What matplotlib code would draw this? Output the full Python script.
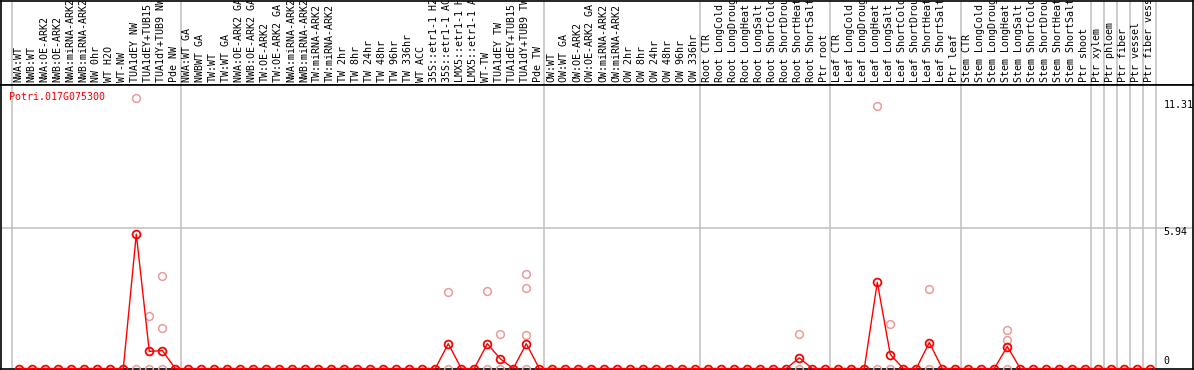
import matplotlib
matplotlib.use("Agg")
import matplotlib.pyplot as plt

W, H = 1194, 370

# sample labels, grouped as in the chart
grp_nw = ["NWA:WT", "NWB:WT", "NWA:OE-ARK2", "NWB:OE-ARK2", "NWA:miRNA-ARK2",
          "NWB:miRNA-ARK2", "NW 0hr", "WT H2O", "WT-NW", "TUA1dEY NW",
          "TUA1dEY+TUB15 NW", "TUA1dY+TUB9 NW", "Pde NW"]
grp_tw = ["NWA:WT GA", "NWBWT GA", "TW:WT", "TW:WT GA", "NWA:OE-ARK2 GA",
          "NWB:OE-ARK2 GA", "TW:OE-ARK2", "TW:OE-ARK2 GA", "NWA:miRNA-ARK2",
          "NWB:miRNA-ARK2", "TW:miRNA-ARK2", "TW:miRNA-ARK2", "TW 2hr", "TW 8hr",
          "TW 24hr", "TW 48hr", "TW 96hr", "TW 336hr", "WT ACC",
          "35S::etr1-1 H2O", "35S::etr1-1 ACC", "LMX5::etr1-1 H2O",
          "LMX5::etr1-1 ACC", "WT-TW", "TUA1dEY TW", "TUA1dEY+TUB15 TW",
          "TUA1dY+TUB9 TW", "Pde TW"]
grp_ow = ["OW:WT", "OW:WT GA", "OW:OE-ARK2", "OW:OE-ARK2 GA", "OW:miRNA-ARK2",
          "OW:miRNA-ARK2", "OW 2hr", "OW 8hr", "OW 24hr", "OW 48hr", "OW 96hr",
          "OW 336hr"]
grp_root = ["Root CTR", "Root LongCold", "Root LongDrought", "Root LongHeat",
            "Root LongSalt", "Root ShortCold", "Root ShortDrought",
            "Root ShortHeat", "Root ShortSalt", "Ptr root"]
grp_leaf = ["Leaf CTR", "Leaf LongCold", "Leaf LongDrought", "Leaf LongHeat",
            "Leaf LongSalt", "Leaf ShortCold", "Leaf ShortDrought",
            "Leaf ShortHeat", "Leaf ShortSalt", "Ptr leaf"]
grp_stem = ["Stem CTR", "Stem LongCold", "Stem LongDrought", "Stem LongHeat",
            "Stem LongSalt", "Stem ShortCold", "Stem ShortDrought",
            "Stem ShortHeat", "Stem ShortSalt", "Ptr shoot"]
grp_tissue = ["Ptr xylem", "Ptr phloem", "Ptr fiber", "Ptr vessel",
              "Ptr fiber vessel"]

# mean expression per sample (red line)
val_nw = [0, 0, 0, 0, 0, 0, 0, 0, 0, 5.69, 0.72, 0.76, 0]
val_tw = [0, 0, 0, 0, 0, 0, 0, 0, 0, 0, 0, 0, 0, 0, 0, 0, 0, 0, 0, 0,
          1.05, 0, 0, 1.05, 0.41, 0, 1.05, 0]
val_ow = [0, 0, 0, 0, 0, 0, 0, 0, 0, 0, 0, 0]
val_root = [0, 0, 0, 0, 0, 0, 0, 0.45, 0, 0]
val_leaf = [0, 0, 0, 3.65, 0.59, 0, 0, 1.10, 0, 0]
val_stem = [0, 0, 0, 0.93, 0, 0, 0, 0, 0, 0]
val_tissue = [0, 0, 0, 0, 0]

# individual replicates (pink circles): sample index and value
rep_x = [9, 9, 10, 10, 11, 11, 11, 33, 33, 36, 36, 37, 37, 39, 39, 39, 39,
         60, 60, 66, 66, 67, 67, 70, 70, 76, 76, 76]
rep_y = [11.44, 0, 2.24, 0, 3.93, 1.70, 0, 3.25, 0, 3.30, 0, 1.44, 0,
         3.99, 3.42, 1.40, 0, 1.47, 0, 11.12, 0, 1.90, 0, 3.38, 0,
         1.61, 1.19, 0]

gene = "Potri.017G075300"
ticks = [0, 5.94, 11.31]

groups = [grp_nw, grp_tw, grp_ow, grp_root, grp_leaf, grp_stem]
labels = sum(groups, []) + grp_tissue
values = val_nw + val_tw + val_ow + val_root + val_leaf + val_stem + val_tissue
xs = list(range(len(labels)))

# group boundaries: each group, then every tissue sample on its own
bounds = [0]
for g in groups:
    bounds.append(bounds[-1] + len(g))
for _ in grp_tissue:
    bounds.append(bounds[-1] + 1)

mono = "DejaVu Sans Mono"
red = "#ff0000"
pink = "#eb9a9a"
grid = "#c4c4c4"

fig = plt.figure(figsize=(W / 100, H / 100), dpi=100)
x0 = (1 - 19.3) / 13
x1 = (1193 - 19.3) / 13

# label strip on top
top = fig.add_axes([1 / W, (H - 85) / H, 1192 / W, 84.5 / H])
top.set_xlim(x0, x1)
top.set_ylim(0, 84.5)
top.set_xticks([])
top.set_yticks([])
for s in top.spines.values():
    s.set_linewidth(1.2)
for b in bounds:
    top.axvline(b - 0.6, color=grid, lw=1.2, zorder=0)
for x, lab in zip(xs, labels):
    top.text(x - 0.08, 2.5, lab, rotation=90, ha="center", va="bottom",
             family=mono, fontsize=7.2, clip_on=True)

# main plot
ax = fig.add_axes([1 / W, (H - 368.5) / H, 1192 / W, (368.5 - 85) / H])
ax.set_xlim(x0, x1)
ax.set_ylim(0, 12.0)
ax.set_xticks([])
ax.set_yticks([])
for s in ax.spines.values():
    s.set_linewidth(1.2)
for b in bounds:
    ax.axvline(b - 0.6, color=grid, lw=1.2, zorder=0)
ax.axhline(ticks[1], color=grid, lw=1.2, zorder=0)

ax.plot(rep_x, rep_y, "o", ms=5.6, mfc="none", mec=pink, mew=1.1,
        clip_on=False, zorder=3)
ax.plot(xs, values, "-o", color=red, lw=1.0, ms=5.6, mfc="none", mec=red,
        mew=1.3, clip_on=False, zorder=4)

ax.text(-0.78, 11.5, gene, color=red, family=mono, fontsize=7.2,
        ha="left", va="center")
ax.text(88.0, ticks[2] + 0.05, "%.2f" % ticks[2], family=mono, fontsize=7.2,
        ha="left", va="top")
ax.text(88.0, ticks[1] + 0.05, "%.2f" % ticks[1], family=mono, fontsize=7.2,
        ha="left", va="top")
ax.text(88.0, ticks[0] + 0.12, "0", family=mono, fontsize=7.2,
        ha="left", va="bottom")

fig.savefig("out.png", dpi=100)
